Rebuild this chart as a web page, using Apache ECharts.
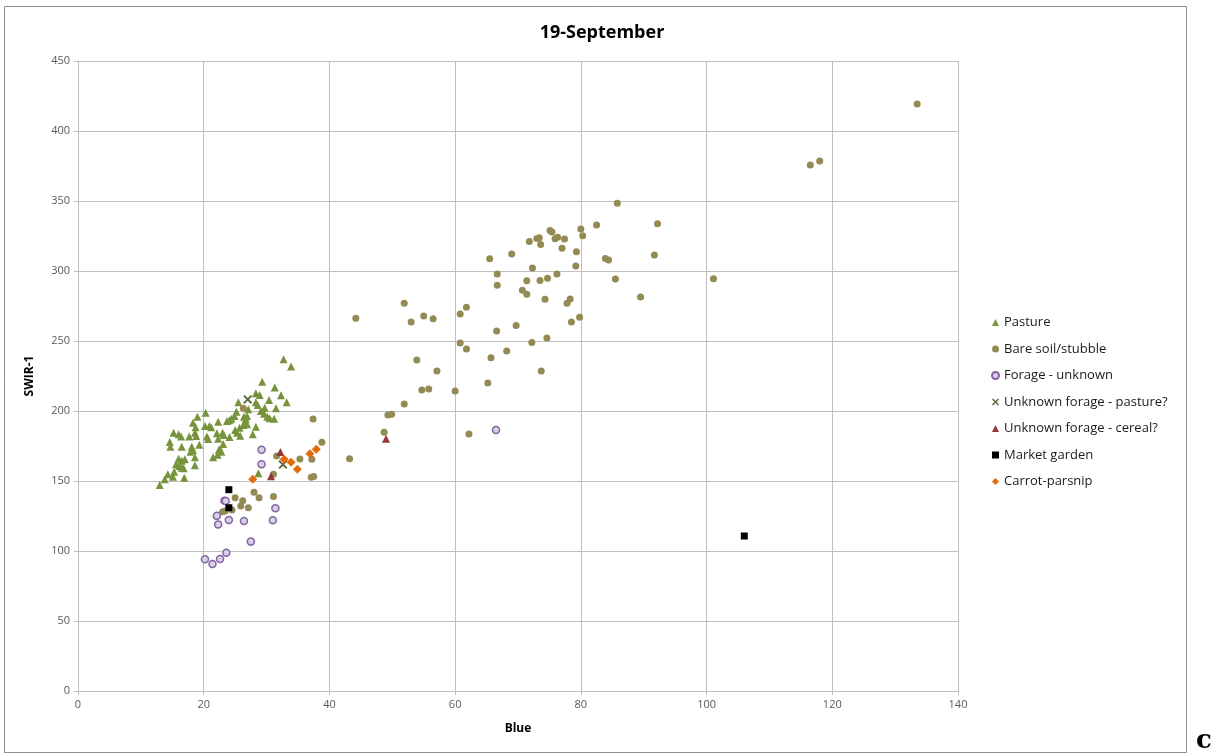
<!DOCTYPE html>
<html><head><meta charset="utf-8">
<script src="https://cdn.jsdelivr.net/npm/echarts@6/dist/echarts.min.js"></script>
<style>html,body{margin:0;padding:0;background:#fff}#c{width:1212px;height:754px}</style>
</head><body><div id="c"></div>
<script>
const titleText = '19-September';
const xName = 'Blue';
const yName = 'SWIR-1';
const seriesNames = ['Pasture','Bare soil/stubble','Forage - unknown','Unknown forage - pasture?','Unknown forage - cereal?','Market garden','Carrot-parsnip'];

const pasture = [[32.7,236.9],[33.9,231.7],[29.3,220.9],[31.3,216.7],[28.3,212.6],[28.9,211.4],[32.3,211.2],[25.5,206.2],[30.4,207.9],[33.2,206.2],[28.3,206.2],[28.6,204.3],[29.7,202.4],[31.5,201.9],[20.3,198.8],[25.2,199.5],[27.1,201.2],[29.1,200],[29.6,198.1],[30.1,195.9],[30.5,194.8],[31.2,194.5],[19.0,195.9],[18.3,191.6],[22.3,192.4],[23.7,192.9],[24.1,193.4],[24.4,194.5],[24.9,196.4],[26.4,195.9],[26.7,194.5],[26.9,196.4],[26.6,192.4],[26.9,190.5],[26.3,190.0],[20.2,189.3],[20.9,189.3],[21.2,188.4],[18.7,188.4],[25.7,188.1],[28.3,188.8],[15.2,184.5],[16.0,183.4],[16.4,181.7],[17.7,181.7],[18.6,184.5],[18.8,182.1],[20.5,181.7],[20.7,180],[22.1,184.1],[22.3,180.2],[23.0,184.5],[23.2,182.9],[24.1,181.4],[25.0,186.4],[25.3,184.5],[25.8,182.4],[27.8,183.4],[14.6,177.9],[14.7,174.5],[16.5,174.5],[18.1,174.5],[18.3,172.1],[17.9,170.9],[19.3,175.9],[22.6,172.6],[22.8,170.9],[23.1,176.4],[22.2,168.8],[22.4,172.1],[21.5,166.9],[16.0,165.9],[16.5,164.5],[17.0,165.5],[18.6,166.9],[18.6,161.2],[15.6,161.9],[16.1,160.7],[16.5,159.5],[16.8,159.1],[28.7,155.5],[15.3,156.6],[15.1,153.1],[16.9,152.4],[14.3,154.8],[13.8,151.2],[13.0,147.1]];

const bareSoil = [[133.5,419.3],[116.5,375.7],[118.0,378.6],[101.1,294.5],[92.2,333.8],[91.7,311.4],[89.5,281.4],[85.8,348.4],[85.5,294.3],[83.9,309],[84.4,307.9],[82.5,332.9],[80.0,330],[80.3,325.2],[79.3,313.8],[79.2,303.6],[79.8,266.9],[78.5,263.6],[78.3,280],[77.8,276.9],[77.4,322.9],[77.0,316.2],[76.3,324.1],[75.9,323.1],[75.1,329],[75.4,327.9],[76.2,297.9],[74.7,294.8],[73.5,293.3],[74.3,279.8],[74.6,252.1],[73.7,228.6],[73.0,323.3],[73.4,323.8],[73.6,319],[71.8,321],[72.3,302.1],[72.2,249],[71.4,293.1],[70.7,286.2],[71.4,283.4],[69.7,261],[69.0,312.1],[68.2,242.9],[66.7,297.9],[66.7,289.8],[66.6,257.1],[65.5,308.8],[65.7,238.1],[65.2,220],[61.8,274.1],[60.8,269.3],[61.8,244.3],[60.8,248.6],[60.0,214.3],[62.2,183.6],[57.1,228.6],[56.5,265.9],[55.0,267.9],[53.0,263.6],[51.9,276.9],[53.9,236.4],[54.7,215],[55.8,215.7],[51.9,205],[49.3,197.1],[49.9,197.6],[48.7,184.8],[44.2,266.2],[43.2,165.9],[38.8,177.6],[37.4,194.3],[37.2,165.5],[35.3,165.7],[37.1,152.6],[37.5,153.3],[31.6,167.9],[31.1,154.8],[31.1,139.0],[28.8,138.1],[28.0,141.9],[27.1,130.9],[25.9,132.1],[26.2,135.9],[25.0,138.1],[24.5,129.3],[23.0,128.1],[23.4,128.6],[22.0,124.8],[26.3,201.9]];

const forageUnknown = [[29.2,172.4],[29.2,161.9],[23.3,135.9],[23.5,135.7],[31.4,130.5],[22.1,125.2],[22.3,119],[24.0,122.1],[26.4,121.4],[31.0,121.9],[27.5,106.7],[23.6,98.8],[22.6,94.3],[21.4,90.7],[20.2,94.1],[66.5,186.4]];
const unknownPasture = [[27.0,208.3],[32.6,161.7]];
const unknownCereal = [[32.2,170.7],[30.7,153.4],[49.0,180.2]];
const marketGarden = [[24.0,143.8],[24.0,130.9],[106.0,110.7]];
const carrotParsnip = [[27.8,151.2],[32.8,165.5],[33.9,163.4],[34.9,158.4],[36.9,169.5],[37.9,172.6]];

const xTicks = {min:0,max:140,interval:20};
const yTicks = {min:0,max:450,interval:50};

const X_PATH = 'path://M0,1.5 L1.5,0 L5,3.5 L8.5,0 L10,1.5 L6.5,5 L10,8.5 L8.5,10 L5,6.5 L1.5,10 L0,8.5 L3.5,5 Z';
const font = '"Open Sans", "Noto Sans", sans-serif';

const chart = echarts.init(document.getElementById('c'), null, {renderer:'canvas'});
const mk = (name, data, symbol, size, style) => ({
  name, type:'scatter', data, symbol, symbolSize:size, itemStyle:Object.assign({opacity:1}, style), z: 3,
  emphasis:{disabled:true}
});
chart.setOption({
  animation:false,
  backgroundColor:'#fff',
  title:{text:titleText,left:597,top:19,textAlign:'center',
    textStyle:{fontFamily:font,fontSize:18,fontWeight:'bold',color:'#000'}},
  grid:{left:78,right:254,top:61,bottom:63,containLabel:false},
  xAxis:{type:'value',min:xTicks.min,max:xTicks.max,interval:xTicks.interval,
    name:xName,nameLocation:'middle',nameGap:32,
    nameTextStyle:{fontFamily:font,fontSize:12,fontWeight:'bold',color:'#000'},
    axisLine:{show:true,lineStyle:{color:'#bfbfbf'}},
    axisTick:{show:true,length:4,lineStyle:{color:'#bfbfbf'}},
    axisLabel:{fontFamily:font,fontSize:11,color:'#595959',margin:8},
    splitLine:{show:true,lineStyle:{color:'#bfbfbf',width:1}}},
  yAxis:{type:'value',min:yTicks.min,max:yTicks.max,interval:yTicks.interval,
    name:yName,nameLocation:'middle',nameGap:42,nameRotate:90,
    nameTextStyle:{fontFamily:font,fontSize:12,fontWeight:'bold',color:'#000'},
    axisLine:{show:true,lineStyle:{color:'#bfbfbf'}},
    axisTick:{show:true,length:4,lineStyle:{color:'#bfbfbf'}},
    axisLabel:{fontFamily:font,fontSize:11,color:'#595959',margin:8},
    splitLine:{show:true,lineStyle:{color:'#bfbfbf',width:1}}},
  legend:{orient:'vertical',left:986,top:309,itemWidth:7,itemHeight:7,itemGap:9.5,
    textStyle:{fontFamily:font,fontSize:13,color:'#1a1a1a',lineHeight:17},
    data:seriesNames},
  graphic:[
    {type:'rect',shape:{x:4.5,y:6.5,width:1182,height:746},style:{fill:'none',stroke:'#8c8c8c',lineWidth:1},silent:true,z:-1},
    {type:'text',left:1196,top:728,style:{text:'c',font:'bold 26px "DejaVu Serif", "Liberation Serif", serif',fill:'#000'}}
  ],
  series:[
    mk(seriesNames[0], pasture, 'triangle', 8, {color:'#77933C'}),
    mk(seriesNames[1], bareSoil, 'circle', 7, {color:'#948A54'}),
    mk(seriesNames[2], forageUnknown, 'circle', 7, {color:'#d9d0e6',borderColor:'#8064A2',borderWidth:1.5}),
    mk(seriesNames[3], unknownPasture, X_PATH, 9, {color:'#5b6d3c'}),
    mk(seriesNames[4], unknownCereal, 'triangle', 8, {color:'#953735'}),
    mk(seriesNames[5], marketGarden, 'rect', 7, {color:'#000'}),
    mk(seriesNames[6], carrotParsnip, 'diamond', 9, {color:'#E46C0A'})
  ]
});
</script></body></html>
